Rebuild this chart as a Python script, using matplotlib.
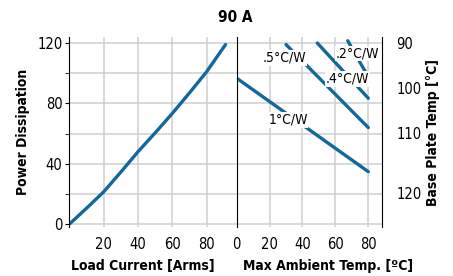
import numpy as np
import matplotlib
matplotlib.use("Agg")
import matplotlib.pyplot as plt
from matplotlib import font_manager

# pick a narrow font if one is installed
fam, stretch = 'DejaVu Sans', 'normal'
names = {(f.name, f.stretch) for f in font_manager.fontManager.ttflist}
for n, s in [('Liberation Sans Narrow', None), ('DejaVu Sans', 'condensed'),
             ('DejaVu Sans Condensed', None), ('Roboto Condensed', None)]:
    hits = [(a, b) for a, b in names if a == n and (s is None or b in ('condensed', 'semi-condensed', 75, 87))]
    if hits:
        fam, stretch = n, (s or 'normal')
        break
plt.rcParams['font.family'] = [fam, 'DejaVu Sans']
plt.rcParams['font.stretch'] = stretch

# left panel: power dissipation vs load current
load_current = [0, 10, 20, 30, 40, 50, 60, 70, 80, 91]
power = [0, 10.5, 21.4, 34.5, 48, 60.5, 73.4, 87, 101, 119]

# right panel: derating lines per heat sink rating
rth_labels = ['1°C/W', '.5°C/W', '.4°C/W', '.2°C/W']
amb_x = [[0, 80], [30, 80], [49, 80], [67.5, 80]]
amb_p = [[96.7, 34.7], [119, 63.9], [120, 83.4], [121.5, 97.5]]
label_xy = [(31.2, 69), (28.8, 110.1), (67.4, 96.2), (73.4, 113.2)]

base_temp_labels = ['90', '100', '110', '120']
base_temp_pos = [120, 90.2, 60.3, 20.6]

blue = '#11699a'
grid_c = '#d0d0d0'

fig = plt.figure(figsize=(4.53, 2.76), dpi=100)
axl = fig.add_axes([0.1534, 0.1775, 0.3691, 0.6884])
axr = fig.add_axes([0.5225, 0.1775, 0.3214, 0.6884])

for ax in (axl, axr):
    ax.set_ylim(-2, 124)
    ax.set_yticks(range(0, 121, 20))
    ax.grid(True, color=grid_c, linewidth=1.1)
    ax.set_axisbelow(True)
    ax.spines['top'].set_visible(False)
    ax.spines['bottom'].set_visible(False)
    ax.tick_params(axis='x', length=0, labelsize=10.5, pad=7)

# left
axl.plot(load_current, power, color=blue, lw=2.4, solid_capstyle='round')
axl.set_xlim(0, 97.5)
axl.set_xticks([20, 40, 60, 80])
axl.set_yticks([0, 40, 80, 120])
axl.set_yticks([20, 60, 100], minor=True)
axl.yaxis.grid(True, which='both', color=grid_c, linewidth=1.1)
axl.tick_params(axis='y', which='both', length=3, labelsize=10.5, pad=2)
axl.spines['right'].set_visible(False)
axl.set_xlabel('Load Current [Arms]', fontsize=10, fontweight='bold')
axl.xaxis.set_label_coords(0.44, -0.17)
axl.set_ylabel('Power Dissipation', fontsize=10, fontweight='bold', labelpad=5)

# right
for xs, ps in zip(amb_x, amb_p):
    axr.plot(xs, ps, color=blue, lw=2.4, solid_capstyle='round')
for lab, (x, y) in zip(rth_labels, label_xy):
    axr.text(x, y, lab, fontsize=10, ha='center', va='center',
             bbox=dict(facecolor='white', edgecolor='none', pad=0.5))
axr.set_xlim(0, 88.5)
axr.set_xticks([0, 20, 40, 60, 80])
axr.yaxis.tick_right()
axr.yaxis.set_label_position('right')
axr.set_yticks(base_temp_pos)
axr.set_yticklabels(base_temp_labels)
axr.yaxis.grid(False)
for p in range(0, 121, 20):
    axr.axhline(p, color=grid_c, linewidth=1.1, zorder=0)
axr.tick_params(axis='y', length=0, labelsize=10.5, pad=10)
axr.set_xlabel('Max Ambient Temp. [ºC]', fontsize=10, fontweight='bold')
axr.xaxis.set_label_coords(0.627, -0.17)
axr.set_ylabel('Base Plate Temp [°C]', fontsize=10, fontweight='bold', labelpad=3)

fig.text(0.519, 0.935, '90 A', fontsize=11, fontweight='bold', ha='center', va='center')

fig.savefig('out.png', dpi=100)
